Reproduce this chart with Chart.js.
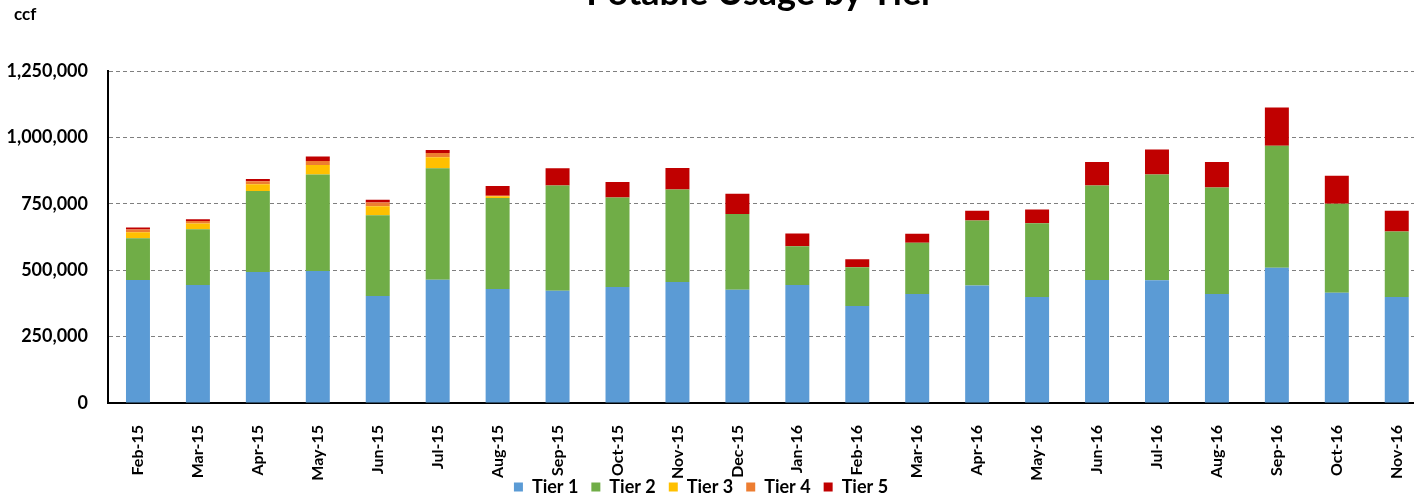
<!DOCTYPE html>
<html>
<head>
<meta charset="utf-8">
<script src="https://cdn.jsdelivr.net/npm/chart.js@4.4.1/dist/chart.umd.min.js"></script>
<style>
  html,body{margin:0;padding:0;background:#fff;}
  #wrap{position:relative;width:1414px;height:497px;overflow:hidden;}
  #inner{position:absolute;left:-26px;top:0;width:1456px;height:497px;}
</style>
</head>
<body>
<div id="wrap"><div id="inner"><canvas id="c" width="1456" height="497"></canvas></div></div>
<script>
// months and usage by tier (ccf)
const months = ['Feb-15','Mar-15','Apr-15','May-15','Jun-15','Jul-15','Aug-15','Sep-15','Oct-15','Nov-15','Dec-15',
  'Jan-16','Feb-16','Mar-16','Apr-16','May-16','Jun-16','Jul-16','Aug-16','Sep-16','Oct-16','Nov-16'];
const tier1 = [463000,444000,493000,497000,403000,464000,429000,423000,437000,456000,426000,
  444000,365000,410000,442000,399000,463000,462000,410000,509000,415000,399000];
const tier2 = [157000,210000,305000,363000,304000,420000,343000,396000,337000,348000,286000,
  146000,146000,193000,245000,278000,356000,398000,401000,460000,335000,247000];
const tier3 = [23000,22000,26000,36000,34000,41000,6000,0,0,0,0,
  0,0,0,0,0,0,0,0,0,0,0];
const tier4 = [10000,9000,11000,15000,14000,16000,2000,0,0,0,0,
  0,0,0,0,0,0,0,0,0,0,0];
const tier5 = [8000,7000,8000,17000,10000,12000,37000,65000,58000,81000,76000,
  48000,30000,34000,37000,52000,88000,94000,96000,144000,106000,78000];
const yTicks = [0,250000,500000,750000,1000000,1250000];

const FONT = 'Lato, "Liberation Sans", sans-serif';

const series = [
  {label:'Tier 1', data:tier1, color:'#5B9BD5'},
  {label:'Tier 2', data:tier2, color:'#70AD47'},
  {label:'Tier 3', data:tier3, color:'#FFC000'},
  {label:'Tier 4', data:tier4, color:'#ED7D31'},
  {label:'Tier 5', data:tier5, color:'#C00000'},
];

// title + unit label, drawn relative to the plot area
const headings = {
  id:'headings',
  afterDraw(chart){
    const {ctx, chartArea:a} = chart;
    ctx.save();
    ctx.fillStyle = '#000';
    ctx.font = 'bold 36px ' + FONT;
    ctx.textAlign = 'center';
    ctx.textBaseline = 'alphabetic';
    ctx.fillText('Potable Usage by Tier', (a.left + a.right)/2 - 7, a.top - 66);
    ctx.font = 'bold 17px ' + FONT;
    ctx.textAlign = 'left';
    ctx.fillText('ccf', a.left - 94, a.top - 51);
    ctx.restore();
  }
};

new Chart(document.getElementById('c'), {
  type:'bar',
  data:{
    labels:months,
    datasets:series.map(s=>({label:s.label,data:s.data,backgroundColor:s.color,borderWidth:0,
      barPercentage:0.4,categoryPercentage:1}))
  },
  options:{
    responsive:false,
    animation:false,
    layout:{padding:{top:71,right:2,left:0,bottom:-9}},
    plugins:{
      legend:{position:'bottom',
        labels:{font:{family:FONT,size:18,weight:'bold'},color:'#000',boxWidth:9,boxHeight:9,padding:13}},
      tooltip:{enabled:false},
      title:{display:false}
    },
    scales:{
      x:{stacked:true,
        // fixed axis box height; month labels may overhang it
        afterFit(s){ s.height = 62; s._computeLabelArea = () => undefined; },
        grid:{display:false},
        border:{display:true,color:'#000',width:2},
        ticks:{font:{family:FONT,size:16,weight:'bold'},color:'#000',minRotation:90,maxRotation:90,padding:14,autoSkip:false}
      },
      y:{stacked:true,min:0,max:1250000,
        afterFit(s){ s.width = 134; },
        afterBuildTicks(s){ s.ticks = yTicks.map(v=>({value:v})); },
        grid:{color:'#7f7f7f',lineWidth:1,drawTicks:false},
        border:{display:true,color:'#000',width:2,dash:[4,3]},
        ticks:{font:{family:FONT,size:18,weight:'bold'},color:'#000',padding:20,
          callback:v=>v.toLocaleString('en-US')}
      }
    }
  },
  plugins:[headings]
});
</script>
</body>
</html>
